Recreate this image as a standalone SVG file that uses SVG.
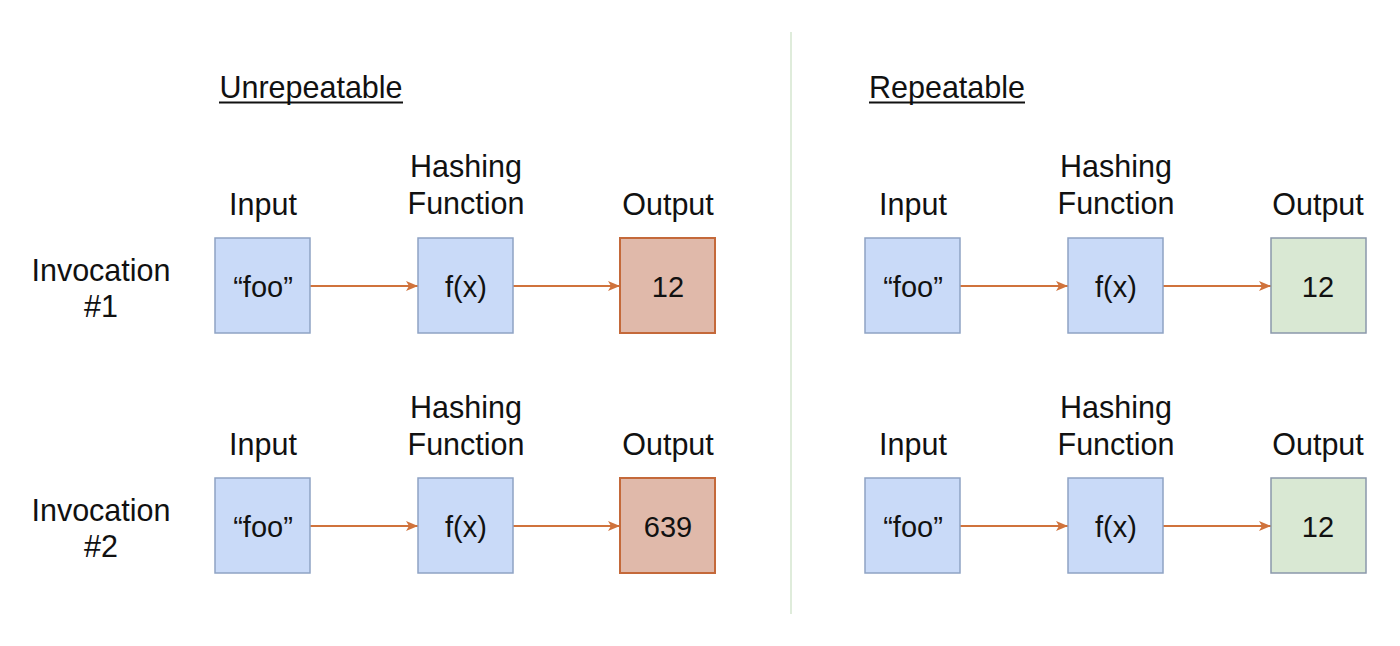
<svg xmlns="http://www.w3.org/2000/svg" width="1400" height="646" viewBox="0 0 1400 646">
<defs>
<style>
text{font-family:"Liberation Sans",Arial,sans-serif;font-size:30.5px;fill:#111;text-anchor:middle}
text.in{font-size:29px}
.b{fill:#c9daf8;stroke:#8ea3c4;stroke-width:1.5}
.r{fill:#e0b9aa;stroke:#c4693a;stroke-width:2}
.g{fill:#d9e8d3;stroke:#8a98ab;stroke-width:1.5}
.c{stroke:#d0733c;stroke-width:2;fill:none;marker-end:url(#ah)}
</style>
<marker id="ah" viewBox="0 0 12 10" refX="12" refY="5" markerWidth="12" markerHeight="10" markerUnits="userSpaceOnUse" orient="auto">
<path d="M0,0 L12,5 L0,10 L3,5 Z" fill="#d0733c"/>
</marker>
</defs>
<rect width="1400" height="646" fill="#fff"/>
<line x1="791" y1="32" x2="791" y2="614" stroke="#d4e6cf" stroke-width="1.5"/>
<g id="titles">
<text x="311" y="98">Unrepeatable</text>
<line x1="219" y1="102.5" x2="403" y2="102.5" stroke="#111" stroke-width="2"/>
<text x="947" y="98">Repeatable</text>
<line x1="869" y1="102.5" x2="1025" y2="102.5" stroke="#111" stroke-width="2"/>
</g>
<g id="labels">
<text x="101" y="281">Invocation</text><text x="101" y="317">#1</text>
<text x="101" y="521">Invocation</text><text x="101" y="557">#2</text>
<text x="263" y="215">Input</text><text x="466" y="177">Hashing</text><text x="466" y="214">Function</text><text x="668" y="215">Output</text>
<text x="263" y="455">Input</text><text x="466" y="418">Hashing</text><text x="466" y="455">Function</text><text x="668" y="455">Output</text>
<text x="913" y="215">Input</text><text x="1116" y="177">Hashing</text><text x="1116" y="214">Function</text><text x="1318" y="215">Output</text>
<text x="913" y="455">Input</text><text x="1116" y="418">Hashing</text><text x="1116" y="455">Function</text><text x="1318" y="455">Output</text>
</g>
<g id="connectors">
<line class="c" x1="310" y1="286" x2="418" y2="286"/>
<line class="c" x1="513" y1="286" x2="620" y2="286"/>
<line class="c" x1="310" y1="526" x2="418" y2="526"/>
<line class="c" x1="513" y1="526" x2="620" y2="526"/>
<line class="c" x1="960" y1="286" x2="1068" y2="286"/>
<line class="c" x1="1163" y1="286" x2="1271" y2="286"/>
<line class="c" x1="960" y1="526" x2="1068" y2="526"/>
<line class="c" x1="1163" y1="526" x2="1271" y2="526"/>
</g>
<g id="u1-input"><rect class="b" x="215" y="238" width="95" height="95"/><text class="in" x="263" y="297">“foo”</text></g>
<g id="u1-func"><rect class="b" x="418" y="238" width="95" height="95"/><text class="in" x="466" y="297">f(x)</text></g>
<g id="u1-output"><rect class="r" x="620" y="238" width="95" height="95"/><text class="in" x="668" y="297">12</text></g>
<g id="u2-input"><rect class="b" x="215" y="478" width="95" height="95"/><text class="in" x="263" y="537">“foo”</text></g>
<g id="u2-func"><rect class="b" x="418" y="478" width="95" height="95"/><text class="in" x="466" y="537">f(x)</text></g>
<g id="u2-output"><rect class="r" x="620" y="478" width="95" height="95"/><text class="in" x="668" y="537">639</text></g>
<g id="r1-input"><rect class="b" x="865" y="238" width="95" height="95"/><text class="in" x="913" y="297">“foo”</text></g>
<g id="r1-func"><rect class="b" x="1068" y="238" width="95" height="95"/><text class="in" x="1116" y="297">f(x)</text></g>
<g id="r1-output"><rect class="g" x="1271" y="238" width="95" height="95"/><text class="in" x="1318" y="297">12</text></g>
<g id="r2-input"><rect class="b" x="865" y="478" width="95" height="95"/><text class="in" x="913" y="537">“foo”</text></g>
<g id="r2-func"><rect class="b" x="1068" y="478" width="95" height="95"/><text class="in" x="1116" y="537">f(x)</text></g>
<g id="r2-output"><rect class="g" x="1271" y="478" width="95" height="95"/><text class="in" x="1318" y="537">12</text></g>
</svg>
